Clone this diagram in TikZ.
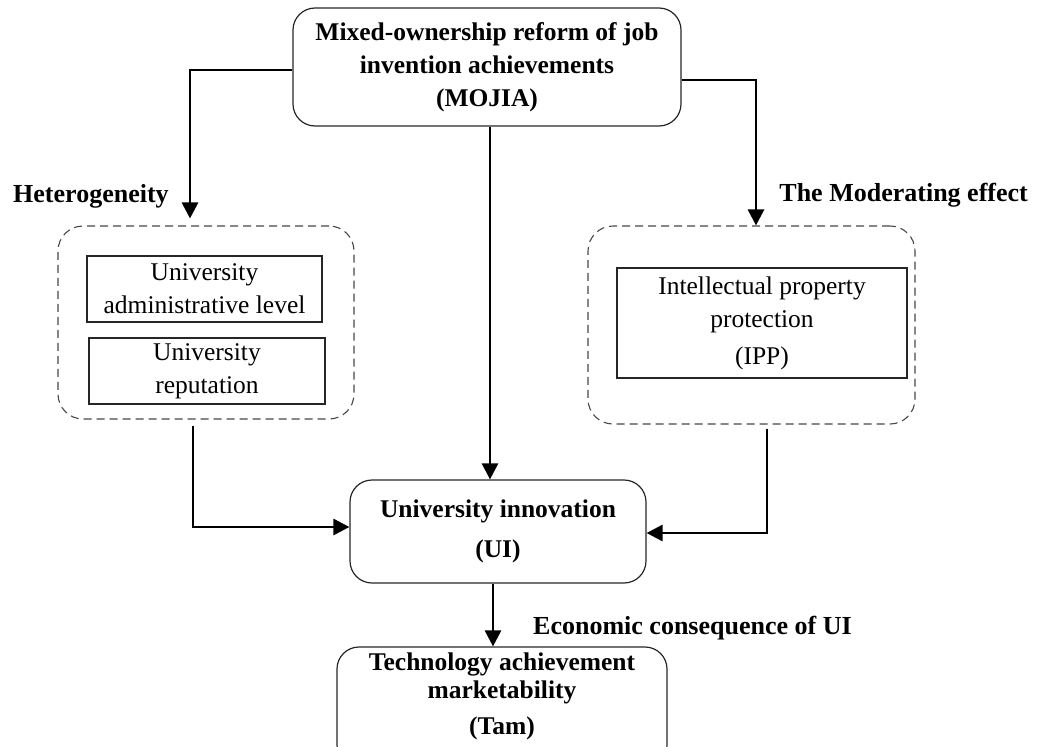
\documentclass[tikz,border=0pt]{standalone}
\usepackage{fontspec}
\setmainfont{Liberation Serif}
\usetikzlibrary{arrows.meta}
\begin{document}
\begin{tikzpicture}[x=1pt,y=1pt,
  txt/.style={font=\fontsize{25.5}{33}\selectfont, align=center},
  bold/.style={font=\fontsize{25.5}{33}\selectfont\bfseries, align=center},
  mainbox/.style={draw=black!85, line width=1.2pt, rounded corners=22pt, inner sep=0pt},
  dashbox/.style={draw=black!72, line width=1.1pt, dash pattern=on 8pt off 5pt, rounded corners=25pt, inner sep=0pt},
  subbox/.style={draw=black!85, line width=1.1pt, inner sep=0pt},
  lbl/.style={font=\fontsize{26}{33}\selectfont\bfseries, inner sep=0pt},
  arr/.style={line width=2.8pt, -{Triangle[length=16pt,width=16pt]}},
]
\useasboundingbox (0,0) rectangle (1047,-747);
\clip (0,0) rectangle (1047,-747);

\node[mainbox, bold, minimum width=388pt, minimum height=118pt] (top) at (487,-67)
  {Mixed-ownership reform of job\\invention achievements\\(MOJIA)};

\node[dashbox, minimum width=296pt, minimum height=193pt] (ldash) at (206,-322.5) {};
\node[subbox, txt, minimum width=235pt, minimum height=66pt] (adm) at (204.5,-289)
  {University\\administrative level};
\node[subbox, txt, minimum width=236pt, minimum height=66pt] (rep) at (207,-371)
  {University\\reputation};

\node[dashbox, minimum width=327pt, minimum height=198pt] (rdash) at (751.5,-325) {};
\node[subbox, txt, minimum width=290pt, minimum height=110pt] (ipp) at (762,-323)
  {Intellectual property\\protection\\[4pt](IPP)};

\node[mainbox, bold, minimum width=296pt, minimum height=103pt] (UI) at (498,-531.5)
  {University innovation\\[7pt](UI)};

\node[mainbox, bold, minimum width=330pt, minimum height=120pt] (Tam) at (502,-707)
  {Technology achievement\\[-5pt]marketability\\[3pt](Tam)\\[-7pt]\mbox{}};

\node[lbl, anchor=west] (het) at (13,-196) {Heterogeneity};
\node[lbl, anchor=east] (mod) at (1028,-195) {The Moderating effect};
\node[lbl, anchor=west] (eco) at (533,-628) {Economic consequence of UI};

\draw[arr] ([yshift=-3pt]top.west) -| ([xshift=-16pt,yshift=7pt]ldash.north);
\draw[arr] ([yshift=-13pt]top.east) -| ([xshift=4.5pt]rdash.north);
\draw[arr] ([xshift=3pt]top.south) -- ([xshift=3pt]top.south |- UI.north);
\draw[arr] ([xshift=-13pt,yshift=-6pt]ldash.south) |- ([yshift=4.5pt]UI.west);
\draw[arr] ([xshift=15.5pt,yshift=-4pt]rdash.south) |- ([yshift=-1.5pt]UI.east);
\draw[arr] ([xshift=-5pt]UI.south) -- ([xshift=-5pt]UI.south |- Tam.north);
\end{tikzpicture}
\end{document}
